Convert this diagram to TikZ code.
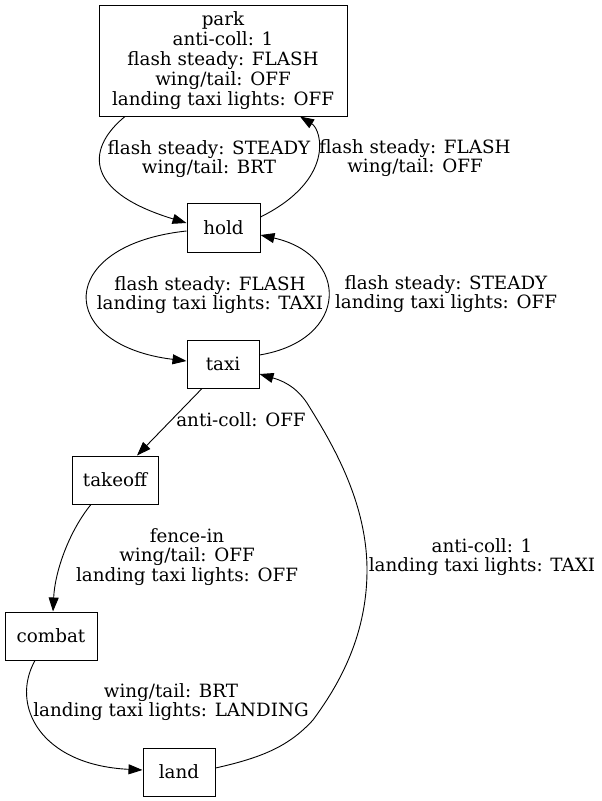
\documentclass[tikz,border=0pt]{standalone}
\usepackage{fontspec}
\setmainfont{DejaVu Serif}
\usetikzlibrary{arrows.meta}
\begin{document}
\begin{tikzpicture}[x=1pt,y=-1pt,
  font=\fontsize{18.3}{19.8}\selectfont,
  state/.style={draw, line width=1pt, align=center, inner sep=0pt, minimum width=72pt, minimum height=48pt},
  lbl/.style={align=center, inner sep=0pt},
  edge/.style={draw, line width=0.9pt, -{Triangle[length=14pt,width=10pt]}}]
\useasboundingbox (0,0) rectangle (602,801);
\node[state, minimum width=248pt, minimum height=111pt] (park) at (223,60.5) {park\\anti-coll: 1\\flash steady: FLASH\\wing/tail: OFF\\landing taxi lights: OFF};
\node[state, minimum width=73pt, minimum height=49pt] (hold) at (223.5,227.5) {hold};
\node[state] (taxi) at (223,364) {taxi};
\node[state, minimum width=86pt] (takeoff) at (115,480) {takeoff};
\node[state, minimum width=92pt] (combat) at (51,636) {combat};
\node[state] (land) at (179,772) {land};

\node[lbl] (l1) at (209,159) {flash steady: STEADY\\wing/tail: BRT};
\node[lbl] (l2) at (415,158) {flash steady: FLASH\\wing/tail: OFF};
\node[lbl] (l3) at (210,295) {flash steady: FLASH\\landing taxi lights: TAXI};
\node[lbl] (l4) at (446,294) {flash steady: STEADY\\landing taxi lights: OFF};
\node[lbl] (l5) at (241,420) {anti-coll: OFF};
\node[lbl] (l6) at (187,557) {fence-in\\wing/tail: OFF\\landing taxi lights: OFF};
\node[lbl] (l7) at (171,702) {wing/tail: BRT\\landing taxi lights: LANDING};
\node[lbl] (l8) at (482,557) {anti-coll: 1\\landing taxi lights: TAXI};

\draw[edge] ([xshift=-98pt]park.south) .. controls (90,145) and (78,190) .. ([yshift=4.5pt]hold.west);
\draw[edge] ([yshift=10.5pt]hold.east) .. controls (335,180) and (322,130) .. ([xshift=77pt]park.south);
\draw[edge] ([yshift=-3.5pt]hold.west) .. controls (55,245) and (55,345) .. ([yshift=3pt]taxi.west);
\draw[edge] ([yshift=9pt]taxi.east) .. controls (350,340) and (350,255) .. ([yshift=-7.5pt]hold.east);
\draw[edge] ([xshift=-21pt]taxi.south) -- ([xshift=22pt]takeoff.north);
\draw[edge] ([xshift=-24pt]takeoff.south) .. controls (70,530) and (55,570) .. ([xshift=2pt]combat.north);
\draw[edge] ([xshift=-16pt]combat.south) .. controls (10,705) and (40,765) .. ([yshift=2pt]land.west);
\draw[edge] ([yshift=4pt]land.east) .. controls (265,757) and (290,745) .. (313,720)
  .. controls (335,690) and (367,640) .. (367,570)
  .. controls (367,500) and (330,440) .. (307,403)
  .. controls (295,385) and (280,380) .. ([yshift=-10pt]taxi.east);
\end{tikzpicture}
\end{document}
